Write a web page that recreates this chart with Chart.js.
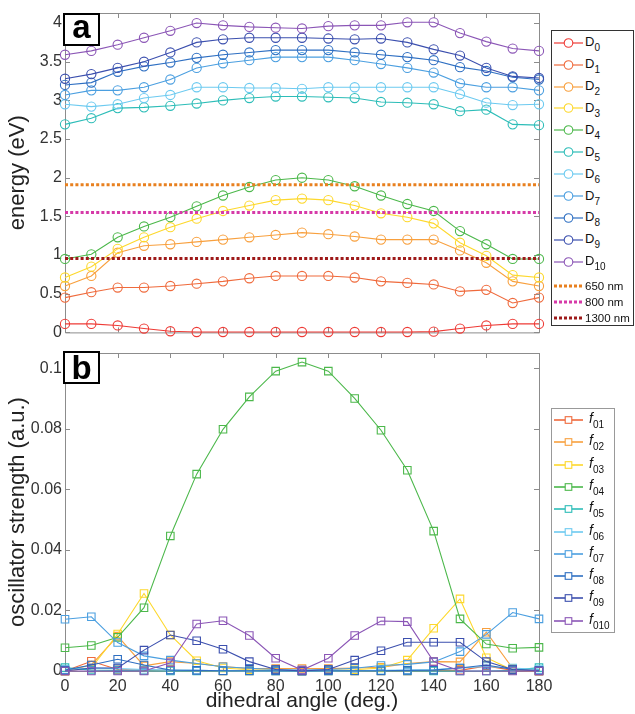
<!DOCTYPE html>
<html><head><meta charset="utf-8">
<script src="https://cdn.jsdelivr.net/npm/chart.js@4.4.1/dist/chart.umd.min.js"></script>
<style>
html,body{margin:0;padding:0;background:#fff;}
body{width:635px;height:714px;position:relative;overflow:hidden;font-family:"Liberation Sans",Arial,sans-serif;}
canvas{position:absolute;left:0;}
#c1{top:0}
#c2{top:340px}
.lbl{position:absolute;border:2px solid #000;background:#fff;font-weight:bold;font-size:33px;text-align:center;box-sizing:border-box;color:#000;font-family:"Liberation Sans",Arial,sans-serif;}
.legend{position:absolute;border:1px solid #333;background:#fff;box-sizing:border-box;}
.lt{position:absolute;white-space:nowrap;color:#111;font-family:"Liberation Sans",Arial,sans-serif;}
.lt span.s{position:relative;}
svg.ls{position:absolute;overflow:visible}
</style></head><body>
<canvas id="c1" width="635" height="345"></canvas>
<canvas id="c2" width="635" height="374"></canvas>
<div class="lbl" style="left:63px;top:13px;width:37px;height:33px;line-height:24px;">a</div>
<div class="lbl" style="left:63px;top:351px;width:37px;height:33px;line-height:30px;">b</div>
<div class="legend" id="lg1" style="left:551px;top:30px;width:83px;height:296px;"></div>
<div class="legend" id="lg2" style="left:551px;top:408px;width:64px;height:225px;border-color:#999"></div>
<div id="items"></div>
<script>
// ---------- data ----------
const angles = [0,10,20,30,40,50,60,70,80,90,100,110,120,130,140,150,160,170,180];

const D0  = [0.11,0.11,0.09,0.05,0.015,0.005,0.005,0.005,0.005,0.005,0.005,0.005,0.005,0.005,0.01,0.05,0.09,0.11,0.11];
const D1  = [0.45,0.52,0.58,0.58,0.60,0.63,0.66,0.70,0.73,0.73,0.73,0.71,0.66,0.64,0.62,0.53,0.55,0.38,0.45];
const D2  = [0.60,0.73,1.03,1.12,1.14,1.17,1.20,1.23,1.26,1.29,1.27,1.24,1.20,1.20,1.20,1.06,0.90,0.66,0.60];
const D3  = [0.71,0.85,1.08,1.23,1.36,1.47,1.57,1.64,1.71,1.73,1.71,1.64,1.54,1.49,1.41,1.16,0.99,0.74,0.71];
const D4  = [0.95,1.01,1.23,1.37,1.49,1.63,1.77,1.88,1.97,2.00,1.97,1.89,1.77,1.66,1.57,1.31,1.14,0.95,0.95];
const D5  = [2.69,2.77,2.90,2.91,2.93,2.96,3.00,3.03,3.05,3.05,3.04,3.03,2.98,2.97,2.95,2.86,2.88,2.69,2.68];
const D6  = [2.95,2.92,2.95,3.03,3.07,3.17,3.17,3.16,3.16,3.15,3.17,3.17,3.17,3.17,3.17,3.08,2.97,2.94,2.95];
const D7  = [3.07,3.13,3.13,3.17,3.27,3.42,3.48,3.52,3.56,3.56,3.56,3.52,3.47,3.42,3.36,3.22,3.17,3.17,3.13];
const D8  = [3.20,3.23,3.37,3.44,3.49,3.55,3.59,3.62,3.65,3.65,3.65,3.62,3.59,3.56,3.52,3.43,3.38,3.30,3.27];
const D9  = [3.28,3.34,3.42,3.50,3.62,3.75,3.79,3.81,3.81,3.81,3.80,3.79,3.80,3.75,3.66,3.58,3.42,3.31,3.29];
const D10 = [3.59,3.64,3.72,3.81,3.90,4.00,3.97,3.95,3.94,3.93,3.96,3.97,3.97,4.01,4.01,3.87,3.76,3.67,3.64];

const wavelengthLabels = ['650 nm','800 nm','1300 nm'];
const wavelengthEnergies = [1.91, 1.55, 0.954];

const f01  = [0,0.0032,0.0005,0.0002,0.0002,0.0001,0,0,0,0,0,0,0,0,0.0002,0.0002,0.0017,0.0002,0];
const f02  = [0,0.002,0.0115,0.0017,0.0031,0.0025,0.0015,0.0008,0.0008,0.0008,0.0008,0.001,0.0012,0.0025,0.0031,0.003,0.0128,0.0009,0];
const f03  = [0,0.001,0.0122,0.0256,0.0119,0.0034,0.001,0.0004,0.0002,0,0.0002,0.0004,0.001,0.0036,0.0141,0.0238,0.0044,0.0003,0];
const f04  = [0.0077,0.0084,0.0111,0.0209,0.0446,0.065,0.0798,0.0905,0.099,0.102,0.099,0.090,0.0795,0.0663,0.0462,0.0172,0.0089,0.0075,0.0078];
const f05  = [0.0011,0.0003,0.0002,0.0001,0,0,0,0,0,0,0,0,0,0,0,0,0,0.0002,0.0011];
const f06  = [0.0005,0.001,0.0008,0.0005,0.0003,0.0002,0.0001,0,0,0,0,0.0001,0.0002,0.0003,0.0005,0.001,0.0015,0.001,0.0005];
const f07  = [0.0171,0.0179,0.0094,0.005,0.0036,0.0025,0.0014,0.0009,0.0005,0.0003,0.0005,0.0009,0.0018,0.0022,0.003,0.0064,0.0121,0.0193,0.0172];
const f08  = [0.0003,0.002,0.0039,0.002,0.0003,0.0002,0.0001,0.0001,0.0001,0,0.0001,0.0001,0.0001,0.0002,0.0003,0.001,0.002,0.0005,0.0002];
const f09  = [0,0.001,0.001,0.0069,0.0119,0.01,0.0072,0.0031,0.0005,0,0.0005,0.0036,0.0067,0.0095,0.0095,0.0095,0.0031,0.0005,0];
const f010 = [0,0,0,0,0.0027,0.0155,0.0166,0.0117,0.0042,0.0003,0.0042,0.0117,0.0165,0.0163,0.0031,0,0,0,0];

const energyTicks = [0,0.5,1,1.5,2,2.5,3,3.5,4];
const strengthTicks = [0,0.02,0.04,0.06,0.08,0.1];
const angleTicks = [0,20,40,60,80,100,120,140,160,180];

// ---------- styles ----------
const stateNames = ['0','1','2','3','4','5','6','7','8','9','10'];
const stateColors = ['#ee3b36','#ef6a3c','#f8a03e','#fdd82c','#4cb84b','#2dbdb8','#6ccaf0','#4b9fe0','#2e6fc2','#3b4fae','#8b56b6'];
const wlColors = ['#e8801f','#d63aa8','#9e1a1a'];
const oscNames = ['01','02','03','04','05','06','07','08','09','010'];
const oscColors = stateColors.slice(1);

const energySeries = [D0,D1,D2,D3,D4,D5,D6,D7,D8,D9,D10];
const oscSeries = [f01,f02,f03,f04,f05,f06,f07,f08,f09,f010];

const pts = arr => arr.map((v,i)=>({x:angles[i], y:v}));

// box + inward ticks plugin (MATLAB style)
const boxPlugin = {
  id:'matlabBox',
  beforeDatasetsDraw(chart){
    const {ctx, chartArea:a, scales} = chart;
    ctx.save();
    ctx.strokeStyle = '#8c8c8c';
    ctx.lineWidth = 1;
    ctx.beginPath();
    ctx.rect(a.left+0.5, a.top+0.5, a.right-a.left, a.bottom-a.top);
    ctx.stroke();
    const L = 5;
    ctx.beginPath();
    scales.x.ticks.forEach(t=>{
      const px = Math.round(scales.x.getPixelForValue(t.value))+0.5;
      ctx.moveTo(px, a.bottom); ctx.lineTo(px, a.bottom-L);
      ctx.moveTo(px, a.top); ctx.lineTo(px, a.top+L);
    });
    scales.y.ticks.forEach(t=>{
      const py = Math.round(scales.y.getPixelForValue(t.value))+0.5;
      ctx.moveTo(a.left, py); ctx.lineTo(a.left+L, py);
      ctx.moveTo(a.right, py); ctx.lineTo(a.right-L, py);
    });
    ctx.stroke();
    ctx.restore();
  }
};

const tickFont = {family:'"Liberation Sans", Arial, sans-serif', size:16};
const yTitleFont = {family:'"Liberation Sans", Arial, sans-serif', size:22};
const xTitleFont = {family:'"Liberation Sans", Arial, sans-serif', size:21};
const fmt = v => String(+Number(v).toFixed(4));
const noGrid = {display:false, drawTicks:false, tickLength:0};

function keepTicks(list){
  return scale => { scale.ticks = list.map(v=>({value:v})); };
}

// ---------- top chart ----------
const topDatasets = [];
energySeries.forEach((s,i)=>{
  topDatasets.push({
    label:'D'+stateNames[i], data:pts(s), borderColor:stateColors[i], backgroundColor:'rgba(0,0,0,0)',
    borderWidth:1.1, pointRadius:4.6, pointBorderWidth:1.1, pointStyle:'circle',
    pointBackgroundColor:'rgba(0,0,0,0)', pointBorderColor:stateColors[i], clip:false, tension:0, order:energySeries.length-i+3
  });
});
wavelengthEnergies.forEach((e,i)=>{
  topDatasets.push({
    label:wavelengthLabels[i], data:[{x:angles[0],y:e},{x:angles[angles.length-1],y:e}],
    borderColor:wlColors[i], borderWidth:3, borderDash:[3,2.2], pointRadius:0, clip:false, order:3-i
  });
});

new Chart(document.getElementById('c1'), {
  type:'line',
  data:{datasets:topDatasets},
  options:{
    responsive:false, animation:false, devicePixelRatio:1,
    layout:{padding:{top:13,right:96,left:0,bottom:0}},
    plugins:{legend:{display:false}, tooltip:{enabled:false}},
    scales:{
      x:{type:'linear', min:0, max:180, grid:noGrid, border:{display:false},
         ticks:{display:false}, afterBuildTicks:keepTicks(angleTicks), afterFit:s=>{s.height=12;}},
      y:{type:'linear', min:0, max:4.13, grid:noGrid, border:{display:false},
         ticks:{font:tickFont, color:'#333', padding:3, callback:fmt},
         afterBuildTicks:keepTicks(energyTicks),
         title:{display:true, text:'energy (eV)', font:yTitleFont, color:'#222', padding:{top:5,bottom:0}},
         afterFit:s=>{s.width=65;}}
    }
  },
  plugins:[boxPlugin]
});

// ---------- bottom chart ----------
const botDatasets = oscSeries.map((s,i)=>({
  label:'f'+oscNames[i], data:pts(s), borderColor:oscColors[i], backgroundColor:'rgba(0,0,0,0)',
  borderWidth:1.1, pointRadius:5.3, pointBorderWidth:1.1, pointStyle:'rect',
  pointBackgroundColor:'rgba(0,0,0,0)', pointBorderColor:oscColors[i], clip:false, tension:0, order:oscSeries.length-i
}));

new Chart(document.getElementById('c2'), {
  type:'line',
  data:{datasets:botDatasets},
  options:{
    responsive:false, animation:false, devicePixelRatio:1,
    layout:{padding:{top:13,right:96,left:0,bottom:0}},
    plugins:{legend:{display:false}, tooltip:{enabled:false}},
    scales:{
      x:{type:'linear', min:0, max:180, grid:noGrid, border:{display:false},
         ticks:{font:tickFont, color:'#333', padding:6, maxRotation:0, callback:fmt},
         afterBuildTicks:keepTicks(angleTicks),
         title:{display:true, text:'dihedral angle (deg.)', font:xTitleFont, color:'#222', padding:{top:0,bottom:0}},
         afterFit:s=>{s.height=43;}},
      y:{type:'linear', min:0, max:0.105, grid:noGrid, border:{display:false},
         ticks:{font:tickFont, color:'#333', padding:3, callback:fmt},
         afterBuildTicks:keepTicks(strengthTicks),
         title:{display:true, text:'oscillator strength (a.u.)', font:yTitleFont, color:'#222', padding:{top:5,bottom:0}},
         afterFit:s=>{s.width=65;}}
    }
  },
  plugins:[boxPlugin]
});

// ---------- HTML legends ----------
const items = document.getElementById('items');
const NS = 'http://www.w3.org/2000/svg';
function sample(kind, color, y){
  const svg = document.createElementNS(NS,'svg');
  svg.setAttribute('class','ls'); svg.setAttribute('width','30'); svg.setAttribute('height','12');
  svg.style.left='554px'; svg.style.top=(y-6)+'px';
  const ln = document.createElementNS(NS,'line');
  ln.setAttribute('x1','0'); ln.setAttribute('x2','29'); ln.setAttribute('y1','6'); ln.setAttribute('y2','6');
  ln.setAttribute('stroke',color);
  if(kind==='dot'){ ln.setAttribute('stroke-width','3'); ln.setAttribute('stroke-dasharray','3 2'); }
  else ln.setAttribute('stroke-width', kind==='rect' ? '1.6' : '1.2');
  svg.appendChild(ln);
  if(kind==='circle'){
    const c = document.createElementNS(NS,'circle');
    c.setAttribute('cx','14.5'); c.setAttribute('cy','6'); c.setAttribute('r','4.3');
    c.setAttribute('fill','#fff'); c.setAttribute('stroke',color); c.setAttribute('stroke-width','1.1');
    svg.appendChild(c);
  } else if(kind==='rect'){
    const r = document.createElementNS(NS,'rect');
    r.setAttribute('x','11.2'); r.setAttribute('y','2.7'); r.setAttribute('width','6.6'); r.setAttribute('height','6.6');
    r.setAttribute('fill','#fff'); r.setAttribute('stroke',color); r.setAttribute('stroke-width','1.1');
    svg.appendChild(r);
  }
  items.appendChild(svg);
}
function text(html, left, top, size, lh){
  const d = document.createElement('div');
  d.className='lt'; d.style.left=left+'px'; d.style.top=top+'px';
  d.style.fontSize=size+'px'; d.style.lineHeight=lh+'px';
  d.innerHTML=html; items.appendChild(d);
}
stateNames.forEach((n,i)=>{
  const y = 42.7 + 21.9*i;
  sample('circle', stateColors[i], y);
  text('D<span class="s" style="font-size:10px;top:5px">'+n+'</span>', 585, y-7.5, 13, 13);
});
[286,302,318].forEach((y,i)=>{
  sample('dot', wlColors[i], y);
  text(wavelengthLabels[i], 585, y-6.5, 11.5, 12);
});
oscNames.forEach((n,i)=>{
  const y = 420 + 22.3*i;
  sample('rect', oscColors[i], y);
  text('<i>f</i><span class="s" style="font-size:10px;top:5px">'+n+'</span>', 589, y-9, 14, 14);
});
</script>
</body></html>
